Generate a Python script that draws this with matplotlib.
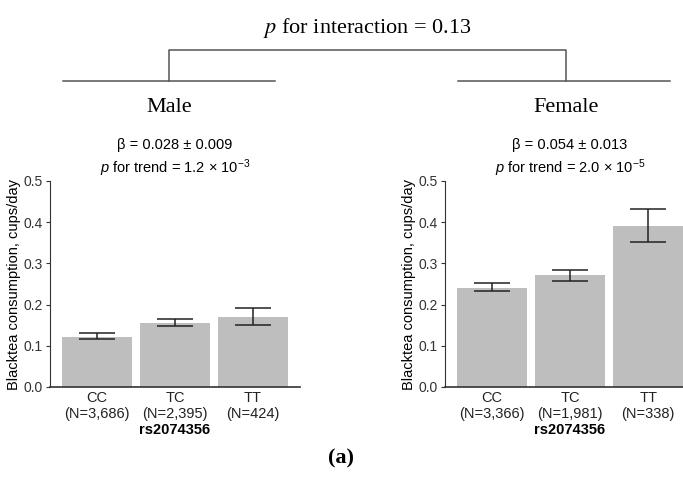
import numpy as np
import matplotlib
matplotlib.use("Agg")
import matplotlib.pyplot as plt
import matplotlib as mpl

mpl.rcParams['font.family'] = 'Liberation Sans'
mpl.rcParams['mathtext.fontset'] = 'custom'
mpl.rcParams['mathtext.rm'] = 'Liberation Sans'
mpl.rcParams['mathtext.it'] = 'Liberation Sans:italic'

# data
genotypes = ['CC', 'TC', 'TT']
male_n = ['3,686', '2,395', '424']
female_n = ['3,366', '1,981', '338']
male_mean = [0.121, 0.156, 0.170]
male_lo = [0.116, 0.147, 0.150]
male_hi = [0.130, 0.166, 0.191]
female_mean = [0.241, 0.271, 0.391]
female_lo = [0.233, 0.257, 0.352]
female_hi = [0.253, 0.284, 0.433]
male_stats = [r'β = 0.028 ± 0.009', r'$p$ for trend = 1.2 × 10$^{-3}$']
female_stats = [r'β = 0.054 ± 0.013', r'$p$ for trend = 2.0 × 10$^{-5}$']

W, H = 683, 480
fig = plt.figure(figsize=(W / 100, H / 100), dpi=100)

# overlay in pixel coords for the bracket and headings
top = fig.add_axes([0, 0, 1, 1])
top.set_xlim(0, W)
top.set_ylim(H, 0)
top.axis('off')
lc = '#555555'
top.plot([63, 275], [81, 81], color=lc, lw=1.1)
top.plot([458, 670], [81, 81], color=lc, lw=1.1)
top.plot([169, 169, 566, 566], [81, 50, 50, 81], color=lc, lw=1.1)
top.text(367, 28, r'$p$ for interaction = 0.13', ha='center', va='center',
         fontsize=16, family='Liberation Serif', math_fontfamily='stix')
top.text(169, 107, 'Male', ha='center', va='center', fontsize=16,
         family='Liberation Serif')
top.text(566, 107, 'Female', ha='center', va='center', fontsize=16,
         family='Liberation Serif')
top.text(341, 458, '(a)', ha='center', va='center', fontsize=16,
         family='Liberation Serif', fontweight='bold')


def panel(rect, mean, lo, hi, ns, stats):
    ax = fig.add_axes(rect)
    x = np.arange(len(genotypes))
    mean = np.array(mean)
    yerr = [mean - np.array(lo), np.array(hi) - mean]
    ax.bar(x, mean, width=0.9, color='#bebebe', zorder=1)
    ax.errorbar(x, mean, yerr=yerr, fmt='none', ecolor='#222222',
                elinewidth=1.1, capsize=13, capthick=1.1, zorder=2)
    ax.set_xlim(-0.6, 2.6)
    ax.set_ylim(0, 0.5)
    ax.set_yticks([0.0, 0.1, 0.2, 0.3, 0.4, 0.5])
    ax.set_yticklabels(['0.0', '0.1', '0.2', '0.3', '0.4', '0.5'])
    ax.set_xticks(x)
    ax.set_xticklabels([g + '\n(N=' + n + ')' for g, n in zip(genotypes, ns)],
                       linespacing=1.2)
    ax.tick_params(axis='x', length=0, pad=3, labelsize=10.5, colors='#222222')
    ax.tick_params(axis='y', length=3, width=0.8, pad=2, labelsize=10,
                   colors='#333333')
    for s in ['top', 'right']:
        ax.spines[s].set_visible(False)
    for s in ['left', 'bottom']:
        ax.spines[s].set_color('#333333')
    ax.spines['left'].set_linewidth(0.8)
    ax.spines['bottom'].set_linewidth(1.2)
    ax.set_ylabel('Blacktea consumption, cups/day', fontsize=10.5, labelpad=2)
    ax.set_xlabel('rs2074356', fontsize=10.5, fontweight='bold', labelpad=1)
    ax.text(0.5, 1.175, stats[0], transform=ax.transAxes, ha='center',
            va='center', fontsize=10.5)
    ax.text(0.5, 1.06, stats[1], transform=ax.transAxes, ha='center',
            va='center', fontsize=10.5)
    return ax


bottom = (H - 387) / H
height = 206 / H
panel([50 / W, bottom, 250 / W, height], male_mean, male_lo, male_hi,
      male_n, male_stats)
panel([445 / W, bottom, 250 / W, height], female_mean, female_lo, female_hi,
      female_n, female_stats)

fig.savefig('out.png', dpi=100)
